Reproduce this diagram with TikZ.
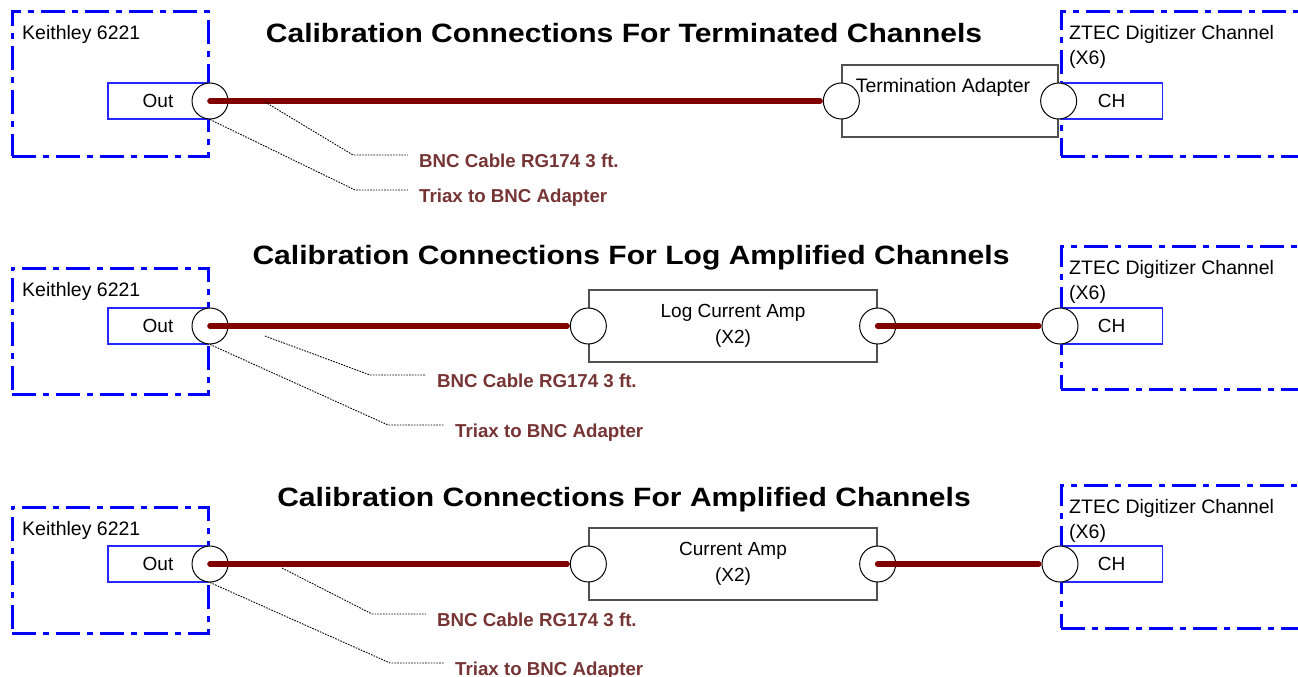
\documentclass[tikz,border=0pt]{standalone}
\usepackage{fontspec}
\setmainfont{Liberation Sans}
\newfontfamily\titlefont[FakeStretch=1.135]{Liberation Sans}
\usepackage{xcolor}
\definecolor{cablered}{RGB}{128,0,0}
\definecolor{notered}{RGB}{118,52,52}
\definecolor{boxgray}{RGB}{80,80,80}
\usetikzlibrary{calc}
\tikzset{
  devbox/.style={draw=blue, line width=2.8pt, dash pattern=on 24pt off 7pt on 6pt off 7pt, inner sep=0pt, anchor=north west},
  port/.style={draw=blue!85!white, line width=1.1pt, minimum width=100pt, minimum height=36pt, font=\fontsize{19}{23}\selectfont},
  jack/.style={circle, draw, fill=white, line width=1pt, minimum size=36pt, inner sep=0pt},
  unit/.style={draw=boxgray, line width=1.3pt, fill=white, align=center, font=\fontsize{19}{26}\selectfont},
  cable/.style={cablered, line width=5.6pt, line cap=round, shorten >=2.8pt},
  leader/.style={line width=0.9pt, dash pattern=on 1.6pt off 1.2pt},
  note/.style={anchor=west, inner xsep=11pt, inner ysep=0pt, text height=14pt, text depth=0pt, text=notered, font=\bfseries\fontsize{18.7}{23}\selectfont},
  title/.style={font=\titlefont\bfseries\fontsize{26.5}{30}\selectfont},
  txt/.style={font=\fontsize{19.5}{25}\selectfont, align=left, inner sep=0pt}
}
\begin{document}
\begin{tikzpicture}[x=1pt,y=-1pt]
\useasboundingbox (0,0) rectangle (1298,677);
\fill[white] (0,0) rectangle (1298,677);

\node[title] (t1) at (624,33) {Calibration Connections For Terminated Channels};
\node[devbox, minimum width=196pt, minimum height=145pt] (k1) at (11,10) {};
\node[txt, anchor=north west] (k1l) at ($(k1.north west)+(11,15)$) {Keithley 6221};
\node[port] (o1) at (158,101) {Out};
\node[unit, minimum width=216pt, minimum height=72pt] (ta) at (950,101) {};
\node[txt] (tal) at (943,87) {Termination Adapter};
\node[devbox, minimum width=260pt, minimum height=145pt] (z1) at (1060,10) {};
\node[txt, anchor=north west] (z1l) at ($(z1.north west)+(9,15)$) {ZTEC Digitizer Channel\\(X6)};
\node[port, anchor=west, minimum width=102pt] (ch1) at (1060,101) {CH};
\node[jack] (j1) at (210,101) {};
\node[jack] (j2) at (ta.west) {};
\node[jack] (j3) at (ta.east) {};
\draw[cable] (j1.center) -- (j2.west);
\coordinate (a1) at (265,102);
\coordinate (b1) at (353,155);
\coordinate (b2) at (355,190);
\node[note] (n1) at (408,160) {BNC Cable RG174 3 ft.};
\node[note] (n2) at (408,195) {Triax to BNC Adapter};
\draw[leader] (a1) -- (b1) -- (b1 -| n1.west);
\draw[leader] (j1.south) -- (b2) -- (b2 -| n2.west);

\node[title] (t2) at (631,258) {Calibration Connections For Log Amplified Channels};
\node[devbox, minimum width=196pt, minimum height=126pt] (k2) at (11,267) {};
\node[txt, anchor=north west] (k2l) at ($(k2.north west)+(11,15)$) {Keithley 6221};
\node[port] (o2) at (158,326) {Out};
\node[unit, minimum width=288pt, minimum height=72pt] (amp1) at (733,326) {Log Current Amp\\(X2)};
\node[devbox, minimum width=260pt, minimum height=143pt] (z2) at (1060,245) {};
\node[txt, anchor=north west] (z2l) at ($(z2.north west)+(9,15)$) {ZTEC Digitizer Channel\\(X6)};
\node[port, anchor=west, minimum width=102pt] (ch2) at (1060,326) {CH};
\node[jack] (j5) at (210,326) {};
\node[jack] (j6) at (amp1.west) {};
\node[jack] (j7) at (amp1.east) {};
\node[jack] (j8) at (1060,326) {};
\draw[cable] (j5.center) -- (j6.west);
\draw[cable] (j7.center) -- (j8.west);
\coordinate (a3) at (265,336);
\coordinate (b3) at (370,375);
\coordinate (b4) at (388,425);
\node[note] (n3) at (426,380) {BNC Cable RG174 3 ft.};
\node[note] (n4) at (444,430) {Triax to BNC Adapter};
\draw[leader] (a3) -- (b3) -- (b3 -| n3.west);
\draw[leader] (j5.south) -- (b4) -- (b4 -| n4.west);

\node[title] (t3) at (624,500) {Calibration Connections For Amplified Channels};
\node[devbox, minimum width=196pt, minimum height=126pt] (k3) at (11,506) {};
\node[txt, anchor=north west] (k3l) at ($(k3.north west)+(11,15)$) {Keithley 6221};
\node[port] (o3) at (158,564) {Out};
\node[unit, minimum width=288pt, minimum height=72pt] (amp2) at (733,564) {Current Amp\\(X2)};
\node[devbox, minimum width=260pt, minimum height=143pt] (z3) at (1060,484) {};
\node[txt, anchor=north west] (z3l) at ($(z3.north west)+(9,15)$) {ZTEC Digitizer Channel\\(X6)};
\node[port, anchor=west, minimum width=102pt] (ch3) at (1060,564) {CH};
\node[jack] (j9) at (210,564) {};
\node[jack] (j10) at (amp2.west) {};
\node[jack] (j11) at (amp2.east) {};
\node[jack] (j12) at (1060,564) {};
\draw[cable] (j9.center) -- (j10.west);
\draw[cable] (j11.center) -- (j12.west);
\coordinate (a5) at (282,568);
\coordinate (b5) at (372,614);
\coordinate (b6) at (390,663);
\node[note] (n5) at (426,619) {BNC Cable RG174 3 ft.};
\node[note] (n6) at (444,668) {Triax to BNC Adapter};
\draw[leader] (a5) -- (b5) -- (b5 -| n5.west);
\draw[leader] (j9.south) -- (b6) -- (b6 -| n6.west);
\end{tikzpicture}
\end{document}
